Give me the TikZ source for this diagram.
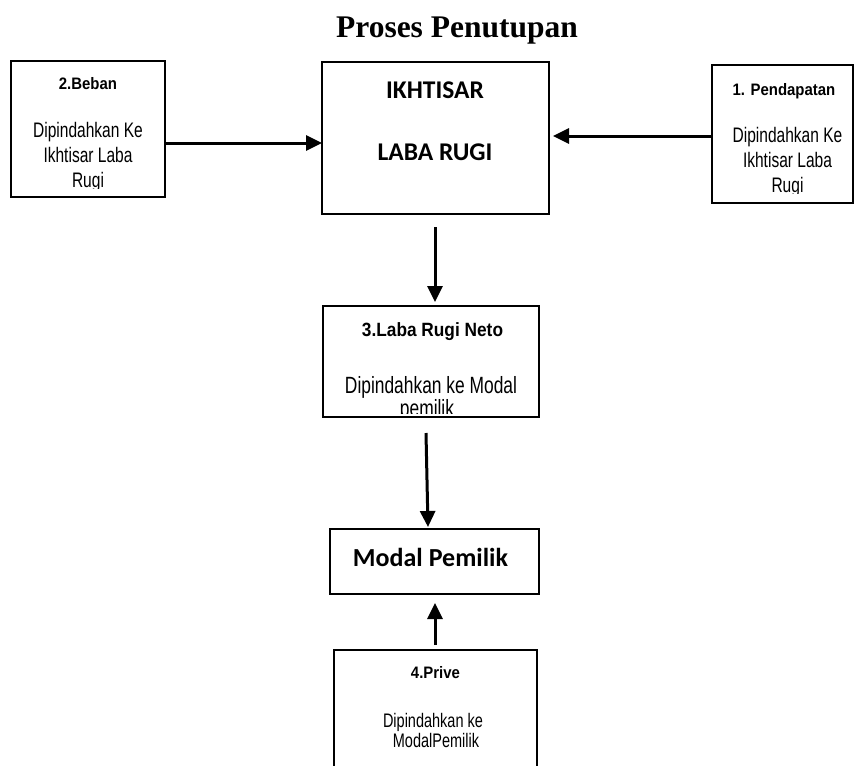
\documentclass[tikz,border=0pt]{standalone}
\usepackage{fontspec}
\usetikzlibrary{arrows.meta,calc}
\newfontfamily\narrowsans[FakeStretch=0.74]{Liberation Sans}
\newfontfamily\labelsans[FakeStretch=0.9]{Liberation Sans}
\newfontfamily\calibrifont{Carlito}
\newfontfamily\titleserif{Liberation Serif}
\begin{document}
\begin{tikzpicture}[x=1pt,y=-1pt,
  box/.style={draw, line width=1.4pt, inner sep=0pt, outer sep=0pt, rectangle},
  conn/.style={line width=3pt, -{Triangle[length=16pt,width=15pt]}},
  txt/.style={anchor=base, inner sep=0pt, outer sep=0pt},
  boldlabel/.style={txt, font=\labelsans\bfseries\fontsize{16.6}{20}\selectfont},
  narrowtext/.style={txt, font=\narrowsans\fontsize{21}{25}\selectfont},
  bigcal/.style={txt, font=\calibrifont\bfseries\fontsize{25.5}{30}\selectfont}]
\fill[white] (0,0) rectangle (855,766);
\useasboundingbox (0,0) rectangle (855,766);

% title
\node[txt, font=\titleserif\bfseries\fontsize{31.5}{36}\selectfont] (title) at (457,37) {Proses Penutupan};

% boxes
\node[box, minimum width=154pt, minimum height=136pt] (beban) at (88,129) {};
\node[box, minimum width=227pt, minimum height=152pt] (ikh) at (435.5,138) {};
\node[box, minimum width=141pt, minimum height=138pt] (pend) at (782.5,134) {};
\node[box, minimum width=216pt, minimum height=111pt] (laba) at (431,361.5) {};
\node[box, minimum width=209pt, minimum height=65pt] (modal) at (434.5,561.5) {};
\node[box, minimum width=203pt, minimum height=160pt] (prive) at (435.5,730) {};

% texts: Beban
\begin{scope}
\clip (11,61) rectangle (165,188);
\node[boldlabel] (bebanT) at (88,89) {2.Beban};
\node[narrowtext] (bebanA) at (88,137) {Dipindahkan Ke};
\node[narrowtext] (bebanB) at (88,162) {Ikhtisar Laba};
\node[narrowtext] (bebanC) at (88,187) {Rugi};
\end{scope}

% texts: Pendapatan
\begin{scope}
\clip (712,65) rectangle (853,193);
\node[boldlabel] (pendT) at (784,95) {1. Pendapatan};
\node[narrowtext] (pendA) at (787.5,142) {Dipindahkan Ke};
\node[narrowtext] (pendB) at (787.5,167) {Ikhtisar Laba};
\node[narrowtext] (pendC) at (787.5,192) {Rugi};
\end{scope}

% texts: Ikhtisar
\node[bigcal] (ikhA) at (435,98) {IKHTISAR};
\node[bigcal] (ikhB) at (435,160) {LABA RUGI};

% texts: Laba Rugi Neto
\begin{scope}
\clip (323,306) rectangle (539,413);
\node[boldlabel, font=\labelsans\bfseries\fontsize{19.2}{23}\selectfont] (labaT) at (432.5,336) {3.Laba Rugi Neto};
\node[narrowtext, font=\narrowsans\fontsize{23.5}{28}\selectfont] (labaA) at (431,393) {Dipindahkan ke Modal};
\node[narrowtext, font=\narrowsans\fontsize{23.5}{28}\selectfont] (labaB) at (427,416) {pemilik};
\end{scope}

% texts: Modal
\node[bigcal, font=\calibrifont\bfseries\fontsize{26}{30}\selectfont] (modalT) at (430.5,566) {Modal Pemilik};

% texts: Prive
\node[boldlabel] (priveT) at (435.5,678) {4.Prive};
\node[narrowtext, font=\narrowsans\fontsize{19.6}{24}\selectfont] (priveA) at (433,727) {Dipindahkan ke};
\node[narrowtext, font=\narrowsans\fontsize{19.6}{24}\selectfont] (priveB) at (436,747) {ModalPemilik};

% connectors
\coordinate (y1) at (0,143);
\coordinate (y2) at (0,136);
\coordinate (x3) at (435,0);
\draw[conn] (beban.east |- y1) -- (ikh.west |- y1);
\draw[conn, shorten >=4pt] (pend.west |- y2) -- (ikh.east |- y2);
\draw[conn, shorten <=13pt, shorten >=4pt] (ikh.south -| x3) -- (laba.north -| x3);
\draw[conn] ($(laba.south)+(-5,16)$) -- ($(modal.north)+(-6.5,-2)$);
\draw[conn] ($(prive.north)+(-0.5,-5)$) -- ($(modal.south)+(0.5,9)$);
\end{tikzpicture}
\end{document}
